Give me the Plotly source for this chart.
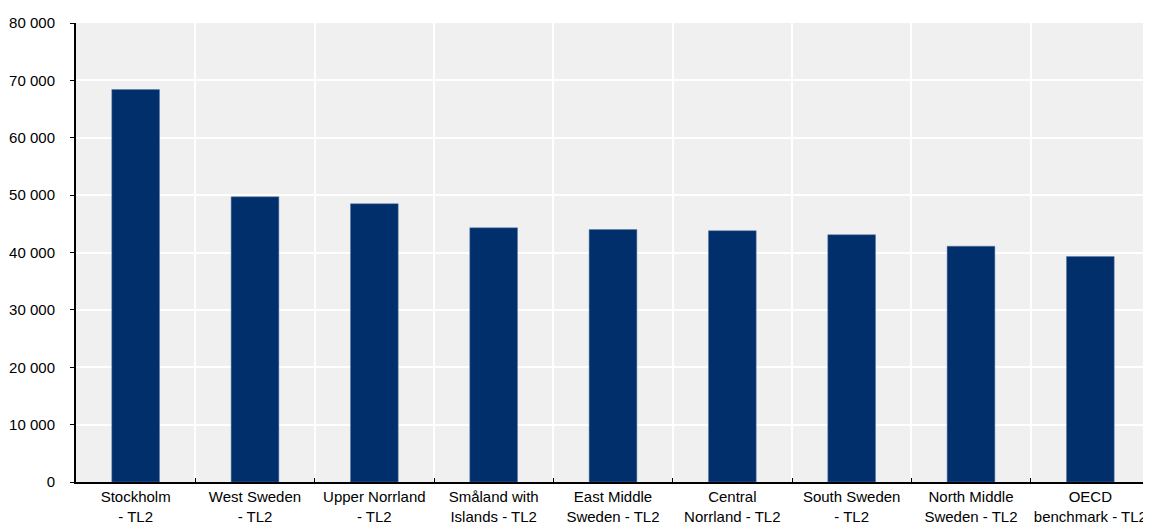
import plotly.graph_objects as go

categories = [
    "Stockholm<br>- TL2",
    "West Sweden<br>- TL2",
    "Upper Norrland<br>- TL2",
    "Småland with<br>Islands - TL2",
    "East Middle<br>Sweden - TL2",
    "Central<br>Norrland - TL2",
    "South Sweden<br>- TL2",
    "North Middle<br>Sweden - TL2",
    "OECD<br>benchmark - TL2",
]
values = [68400, 49700, 48500, 44300, 44000, 43800, 43100, 41100, 39300]

y_tickvals = [0, 10000, 20000, 30000, 40000, 50000, 60000, 70000, 80000]
y_ticktext = ["0", "10 000", "20 000", "30 000", "40 000", "50 000", "60 000", "70 000", "80 000"]

FONT = "Arial, Liberation Sans, sans-serif"

fig = go.Figure(
    go.Bar(
        x=categories,
        y=values,
        marker=dict(color="#002F6C", line=dict(color="#5A7BA6", width=0.5)),
        width=0.4,
    )
)

# page body has an 8px default margin, so the figure is shifted by 8px
fig.update_layout(
    width=1143,
    height=517,
    margin=dict(l=68, r=1, t=15, b=43),
    paper_bgcolor="white",
    plot_bgcolor="#F0F0F0",
    font=dict(family=FONT, size=15, color="#000000"),
    showlegend=False,
)

fig.update_xaxes(
    type="category",
    tickson="boundaries",
    showgrid=True,
    gridcolor="white",
    gridwidth=2,
    showline=True,
    linecolor="black",
    linewidth=2,
    ticks="inside",
    ticklen=4,
    tickcolor="black",
    tickfont=dict(family=FONT, size=15),
    tickangle=0,
    automargin=False,
    range=[-0.5, 8.5],
)

fig.update_yaxes(
    range=[0, 80000],
    tickvals=y_tickvals,
    ticktext=y_ticktext,
    showgrid=True,
    gridcolor="white",
    gridwidth=2,
    showline=True,
    linecolor="black",
    linewidth=2,
    ticks="outside",
    ticklen=4,
    tickcolor="black",
    tickfont=dict(family=FONT, size=15),
    ticklabelstandoff=12,
    automargin=False,
    zeroline=False,
)

fig.write_html("out.html")
